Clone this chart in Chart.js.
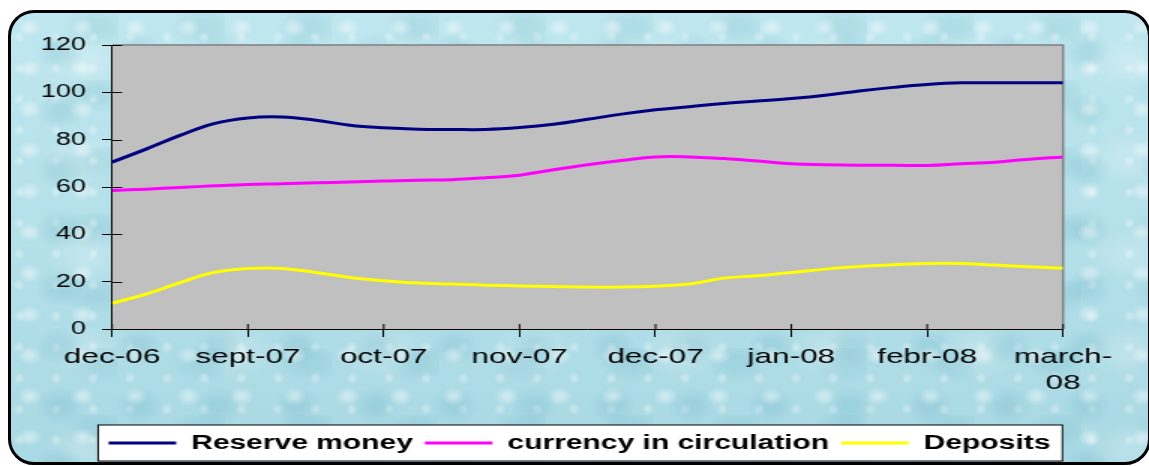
<!DOCTYPE html>
<html>
<head>
<meta charset="utf-8">
<script src="https://cdn.jsdelivr.net/npm/chart.js@4/dist/chart.umd.min.js"></script>
<style>
  body { margin: 0; background: #fff; width: 1149px; height: 466px; overflow: hidden; position: relative; }
  #frame {
    position: absolute; left: 8px; top: 10px; width: 1143px; height: 455px;
    box-sizing: border-box; border: 3px solid #000; border-radius: 26px;
    background-color: #aadce7;
    background-image:
      radial-gradient(ellipse at 35% 35%, rgba(255,255,255,0.40) 0 5%, rgba(255,255,255,0) 25%),
      radial-gradient(ellipse at 62% 66%, rgba(90,165,185,0.18) 0 10%, rgba(90,165,185,0) 35%),
      radial-gradient(circle at 22% 78%, rgba(255,255,255,0.30) 0 4%, rgba(255,255,255,0) 16%),
      radial-gradient(ellipse at 80% 20%, rgba(80,160,180,0.14) 0 8%, rgba(80,160,180,0) 28%),
      radial-gradient(ellipse at 50% 50%, rgba(255,255,255,0.18) 0 10%, rgba(255,255,255,0) 40%),
      linear-gradient(#bfe7ef, #a9d9e4);
    background-size: 53px 41px, 79px 59px, 37px 31px, 107px 67px, 149px 97px, 100% 100%;
  }
  #wrap {
    position: absolute; left: 0; top: 0; width: 766px; height: 466px;
    transform: scaleX(1.5); transform-origin: 0 0;
  }
</style>
</head>
<body>
<div id="frame"></div>
<div id="wrap"><canvas id="chart"></canvas></div>
<script>
// tick labels every 4th point on the x axis
const tickLabels = ['dec-06', 'sept-07', 'oct-07', 'nov-07', 'dec-07', 'jan-08', 'febr-08', ['march-', '08']];
const pointsPerLabel = 4;

const reserveMoney = [70.5, 76, 81.8, 86.8, 89.2, 89.6, 88.2, 86.1, 85.0, 84.4,
    84.3, 84.3, 85.1, 86.5, 88.6, 90.8, 92.6, 93.9, 95.3, 96.3,
    97.4, 98.8, 100.6, 102.1, 103.3, 104.0, 104.0, 104.0, 104.0];
const currencyInCirculation = [58.5, 59.1, 59.8, 60.5, 61.1, 61.4, 61.8, 62.1, 62.5, 62.9,
    63.1, 63.9, 65.0, 67.3, 69.4, 71.2, 72.7, 72.7, 72.0, 71.0,
    69.8, 69.4, 69.2, 69.2, 69.1, 69.8, 70.5, 71.7, 72.7];
const deposits = [10.9, 14.7, 19.6, 23.9, 25.6, 25.6, 23.9, 21.8, 20.4, 19.4,
    19.0, 18.5, 18.2, 18.0, 17.7, 17.7, 18.1, 19.0, 21.5, 22.5,
    23.9, 25.3, 26.4, 27.1, 27.7, 27.7, 27.0, 26.3, 25.7];

function toPoints(values) {
    return values.map((v, i) => ({ x: i, y: v }));
}

// grey plot area, legend box and the inner half of the cross tick marks
const chartFrame = {
    id: 'chartFrame',
    afterLayout(chart) {
        // the legend sits centred under the whole frame, not under the padded area
        chart.legend.left += 32;
        chart.legend.right += 32;
    },
    beforeDraw(chart) {
        const ctx = chart.ctx;
        const a = chart.chartArea;
        ctx.save();
        ctx.fillStyle = '#c0c0c0';
        ctx.fillRect(a.left, a.top, a.right - a.left, a.bottom - a.top);
        ctx.strokeStyle = '#808080';
        ctx.lineWidth = 1.5;
        ctx.beginPath();
        ctx.moveTo(a.left, a.top);
        ctx.lineTo(a.right, a.top);
        ctx.lineTo(a.right, a.bottom);
        ctx.stroke();

        const hb = chart.legend.legendHitBoxes;
        if (hb && hb.length) {
            const last = hb[hb.length - 1];
            const l = hb[0].left - 7;
            const r = last.left + last.width + 8;
            const cy = hb[0].top + hb[0].height / 2;
            ctx.fillStyle = '#fff';
            ctx.fillRect(l, cy - 18, r - l, 36);
            ctx.strokeStyle = '#000';
            ctx.lineWidth = 1;
            ctx.strokeRect(l, cy - 18, r - l, 36);
        }
        ctx.restore();
    },
    beforeDatasetsDraw(chart) {
        const ctx = chart.ctx;
        const a = chart.chartArea;
        const xs = chart.scales.x;
        const ys = chart.scales.y;
        ctx.save();
        ctx.strokeStyle = '#000';
        ctx.lineWidth = 1;
        ctx.beginPath();
        ys.ticks.forEach(t => {
            const py = Math.round(ys.getPixelForValue(t.value)) + 0.5;
            ctx.moveTo(a.left, py);
            ctx.lineTo(a.left + 6.7, py);
        });
        xs.ticks.forEach(t => {
            const px = xs.getPixelForValue(t.value);
            ctx.moveTo(px, a.bottom);
            ctx.lineTo(px, a.bottom - 5);
        });
        ctx.stroke();
        ctx.restore();
    }
};

const ctx = document.getElementById('chart').getContext('2d');
new Chart(ctx, {
    type: 'line',
    data: {
        datasets: [{
            label: 'Reserve money',
            data: toPoints(reserveMoney),
            borderColor: '#000080',
            backgroundColor: '#000080'
        }, {
            label: 'currency in circulation',
            data: toPoints(currencyInCirculation),
            borderColor: '#ff00ff',
            backgroundColor: '#ff00ff'
        }, {
            label: 'Deposits',
            data: toPoints(deposits),
            borderColor: '#ffff00',
            backgroundColor: '#ffff00'
        }]
    },
    options: {
        responsive: true,
        maintainAspectRatio: false,
        animation: false,
        layout: { padding: { left: 0, right: 57.3, top: 45, bottom: 3 } },
        elements: {
            line: { borderWidth: 3, tension: 0.4 },
            point: { radius: 0 }
        },
        scales: {
            x: {
                type: 'linear',
                min: 0,
                max: (tickLabels.length - 1) * pointsPerLabel,
                afterFit: s => { s.height = 96; },
                ticks: {
                    stepSize: pointsPerLabel,
                    autoSkip: false,
                    maxRotation: 0,
                    padding: 8,
                    color: '#000',
                    font: { family: 'Liberation Sans', size: 21 },
                    callback: v => tickLabels[v / pointsPerLabel]
                },
                grid: { drawOnChartArea: false, tickLength: 8, tickColor: '#000' },
                border: { color: '#000', width: 1 }
            },
            y: {
                min: 0,
                max: 120,
                afterFit: s => { s.width = 74.7; },
                ticks: {
                    stepSize: 20,
                    padding: 10.7,
                    color: '#000',
                    font: { family: 'Liberation Sans', size: 18 }
                },
                grid: { drawOnChartArea: false, tickLength: 6.7, tickColor: '#000' },
                border: { color: '#000', width: 1 }
            }
        },
        plugins: {
            tooltip: { enabled: false },
            legend: {
                position: 'bottom',
                labels: {
                    boxWidth: 45,
                    boxHeight: 3,
                    padding: 8,
                    color: '#000',
                    font: { family: 'Liberation Sans', size: 20, weight: 'bold' },
                    generateLabels: chart => Chart.defaults.plugins.legend.labels.generateLabels(chart)
                        .map(l => Object.assign(l, { lineWidth: 0, fillStyle: l.strokeStyle }))
                }
            }
        }
    },
    plugins: [chartFrame]
});
</script>
</body>
</html>
